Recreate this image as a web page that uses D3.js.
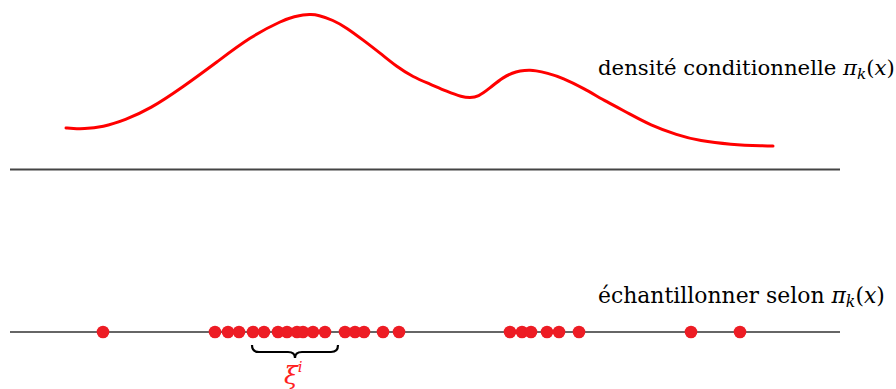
<!DOCTYPE html>
<html><head><meta charset="utf-8">
<script src="https://cdn.jsdelivr.net/npm/d3@7"></script>
<style>html,body{margin:0;padding:0;background:#fff;overflow:hidden}
text{font-family:"DejaVu Serif","Liberation Serif",serif}</style>
</head><body>
<svg id="c" width="896" height="389"></svg>
<script>
// density curve: position along axis and density height
const densityX = [56,63,73,93,115,140,173,207,240,273,285,293,301,308,323,337,353,370,387,403,420,437,452,460,468,480,493,507,515,520,525,537,553,573,597,620,640,667,690,720,755,763];
const densityY = [41.5,41,40.5,42.5,49.5,60.5,82.5,107.5,132.5,149.5,153,154.8,155,154.5,149.5,141.5,129.5,116.5,102.5,92.5,85.5,78,72.5,71.8,72.5,81.5,92.5,98.3,99.2,99.3,99,96.5,91.5,81.5,67.5,55.5,44.5,34.5,28.5,25,23.5,23.5];
// sampled points along the axis
const samples = [93,205,218,229,243,254,268,277,287,293,303,315,335,345,354,373,389,500,512,521,537,549,569,681,730];
// brace range (position units)
const braceRange = [242,328];
const labels = {top:"densité conditionnelle ", bottom:"échantillonner selon ", xi:"ξ", xiSup:"i"};

(function(){
const svg = d3.select("#c");
const x = d3.scaleLinear().domain([0,830]).range([10,840]);
const y = d3.scaleLinear().domain([0,160]).range([169.5,9.5]);
const yBottom = 332;

svg.append("line").attr("x1",x(0)).attr("x2",x(830)).attr("y1",y(0)).attr("y2",y(0))
  .attr("stroke","#444").attr("stroke-width",2);
svg.append("line").attr("x1",x(0)).attr("x2",x(830)).attr("y1",yBottom).attr("y2",yBottom)
  .attr("stroke","#333").attr("stroke-width",1.6);

const pts = densityX.map((d,i)=>[d,densityY[i]]);
svg.append("path").datum(pts)
  .attr("d", d3.line().x(d=>x(d[0])).y(d=>y(d[1])).curve(d3.curveBasis))
  .attr("fill","none").attr("stroke","#ff0000").attr("stroke-width",3).attr("stroke-linecap","round");

svg.selectAll("circle.s").data(samples).join("circle").attr("class","s")
  .attr("cx",d=>x(d)).attr("cy",yBottom).attr("r",6.3).attr("fill","#ed1c24");

const bx0 = x(braceRange[0]), bx1 = x(braceRange[1]), bm=(bx0+bx1)/2;
const bTop = 345, bMid = 352, bTip = 358;
const bp = `M${bx0},${bTop} Q${bx0},${bMid} ${bx0+7},${bMid} L${bm-7},${bMid} Q${bm},${bMid} ${bm},${bTip} Q${bm},${bMid} ${bm+7},${bMid} L${bx1-7},${bMid} Q${bx1},${bMid} ${bx1},${bTop}`;
svg.append("path").attr("d",bp).attr("fill","none").attr("stroke","#000").attr("stroke-width",2.2);

function label(txt, xx, yy, targetW){
  const fs = 20;
  const t = svg.append("text").attr("x",xx).attr("y",yy).attr("font-size",fs).attr("fill","#000");
  t.append("tspan").text(txt);
  t.append("tspan").attr("font-style","italic").text("π");
  t.append("tspan").attr("font-style","italic").attr("font-size","0.72em").attr("dy",4).text("k");
  t.append("tspan").attr("dy",-4).text("(");
  t.append("tspan").attr("font-style","italic").text("x");
  t.append("tspan").text(")");
  const w = t.node().getComputedTextLength();
  t.attr("font-size", fs*targetW/w);
  return t;
}
label(labels.top, 598, 75, 297);
label(labels.bottom, 598, 303, 287);

const xt = svg.append("text").attr("x",284).attr("y",384).attr("font-size",25).attr("font-style","italic").attr("fill","#ff2020");
xt.append("tspan").text(labels.xi);
xt.append("tspan").attr("font-size",15).attr("dy",-12).text(labels.xiSup);
})();
</script>
</body></html>
